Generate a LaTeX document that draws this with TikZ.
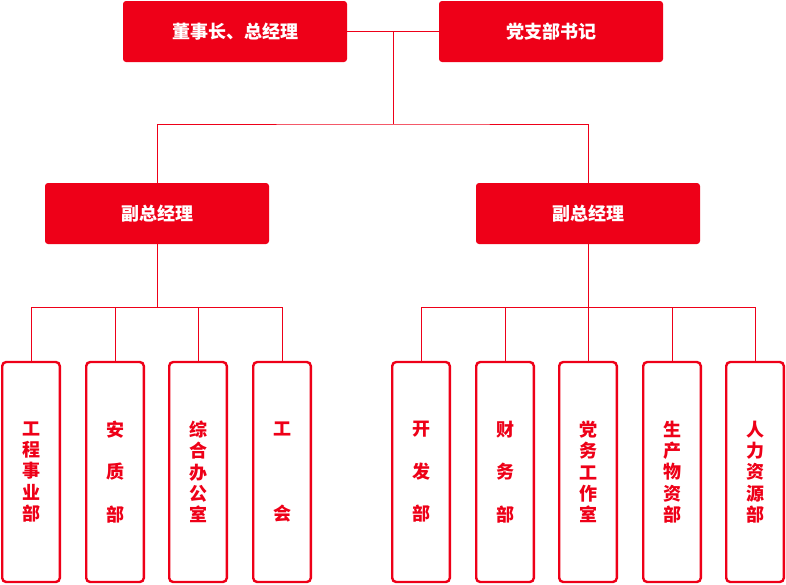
\documentclass[tikz,border=0pt]{standalone}
\usepackage{fontspec}
\usepackage{tikz}
\usetikzlibrary{positioning,calc}
\newfontfamily\cjk{Noto Sans CJK SC}
\definecolor{brandred}{HTML}{EE0018}

\begin{document}
\begin{tikzpicture}[x=1pt,y=-1pt,
  headbox/.style={fill=brandred, rounded corners=3pt, minimum width=224pt, minimum height=61pt, text=white, font=\cjk\bfseries\fontsize{18}{20}\selectfont},
  deptbox/.style={draw=brandred, line width=2.4pt, fill=white, rounded corners=4pt, minimum width=57.6pt, minimum height=220pt, align=center, text=brandred, font=\cjk\bfseries\fontsize{18}{21.3}\selectfont},
  link/.style={draw=brandred, line width=1pt}]
\useasboundingbox (0,0) rectangle (786,584);
% leadership
\node[headbox] (dsz) at (235,31.5) {董事长、总经理};
\node[headbox] (dzb) at (551,31.5) {党支部书记};
\node[headbox] (fz1) at (157,213.5) {副总经理};
\node[headbox] (fz2) at (588,213.5) {副总经理};
% departments
\node[deptbox] (gcsy) at (31,472) {工\\程\\事\\业\\部};
\node[deptbox] (azb) at (115,472) {安\\[21.3pt]质\\[21.3pt]部};
\node[deptbox] (zhbgs) at (198,472) {综\\合\\办\\公\\室};
\node[deptbox] (gh) at (282,472) {工\\[63.9pt]会};
\node[deptbox] (kfb) at (421,472) {开\\[21.3pt]发\\[21.3pt]部};
\node[deptbox] (cwb) at (505,472) {财\\[21.3pt]务\\[21.3pt]部};
\node[deptbox] (dwgzs) at (588,472) {党\\务\\工\\作\\室};
\node[deptbox] (scwzb) at (672,472) {生\\产\\物\\资\\部};
\node[deptbox] (rlzyb) at (755,472) {人\\力\\资\\源\\部};
% connectors
\coordinate (topj) at ($(dsz.east)!0.5!(dzb.west)$);
\coordinate (topbus) at (topj |- 0,124);
\coordinate (lbus) at (157,307);
\coordinate (rbus) at (588,307);
\draw[link] (dsz) -- (dzb);
\draw[link] (topj) -- (topbus);
\draw[link] (fz1.north) |- (topbus) -| (fz2.north);
\draw[link] (fz1.south) -- (lbus);
\draw[link] (fz2.south) -- (rbus);
\foreach \d in {gcsy,azb,zhbgs,gh}
  \draw[link] (lbus) -| (\d.north);
\foreach \d in {kfb,cwb,dwgzs,scwzb,rlzyb}
  \draw[link] (rbus) -| (\d.north);
\end{tikzpicture}
\end{document}
